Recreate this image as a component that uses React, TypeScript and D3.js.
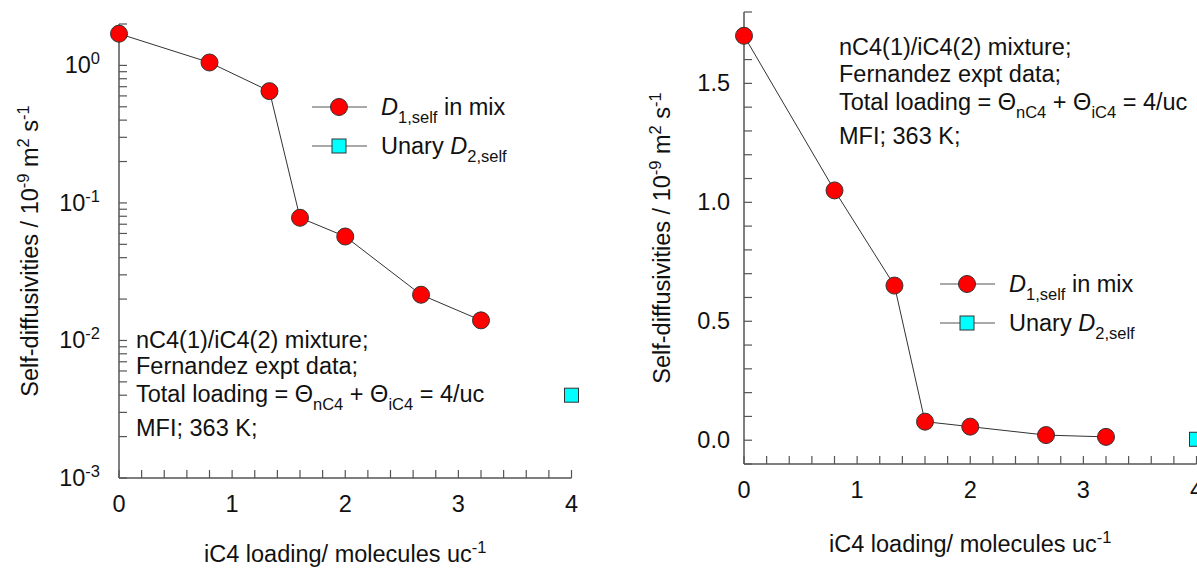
import React from "react";
import * as d3 from "d3";

// iC4 loading (molecules per unit cell) and nC4 self-diffusivity in the mixture
const loadingIC4 = [0, 0.8, 1.33, 1.6, 2.0, 2.67, 3.2];
const dSelfMix = [1.7, 1.05, 0.65, 0.078, 0.057, 0.0215, 0.014];
// unary iC4 self-diffusivity at 4/uc
const unaryLoading = [4];
const dSelfUnary = [0.004];

const xTicks = [0, 1, 2, 3, 4];
const logMajorTicks = [1, 0.1, 0.01, 0.001];
const logExponents = ["0", "-1", "-2", "-3"];
const linMajorTicks = [0, 0.5, 1.0, 1.5];

const annotationLines = ["nC4(1)/iC4(2) mixture;", "Fernandez expt data;"];
const annotationLast = "MFI; 363 K;";

const FONT = "'Liberation Sans', Arial, Helvetica, sans-serif";
const AXIS = "#555";
const INK = "#111";
const FS = 23.5;
const SUB = 16.5;

type PanelProps = {
  log: boolean;
  x0: number;
  x1: number;
  yTop: number;
  yBot: number;
  xLabelBase: number;
  yTitleX: number;
  xTitleBase: number;
  legendX: number;
  legendY: number;
  noteX: number;
  noteBases: number[];
};

function Theta3({ x, y }: { x: number; y: number }) {
  return (
    <text x={x} y={y} fontSize={FS} fill={INK}>
      {"Total loading = \u0398"}
      <tspan fontSize={SUB} dy={8}>nC4</tspan>
      <tspan dy={-8}>{" + \u0398"}</tspan>
      <tspan fontSize={SUB} dy={8}>iC4</tspan>
      <tspan dy={-8}>{" = 4/uc"}</tspan>
    </text>
  );
}

function Panel(p: PanelProps) {
  const x = d3.scaleLinear().domain([0, 4]).range([p.x0, p.x1]);
  const yLog = d3.scaleLog().domain([0.001, 2]).range([p.yBot, p.yTop]);
  const yLin = d3.scaleLinear().domain([-0.1, 1.8]).range([p.yBot, p.yTop]);
  const y = (v: number) => (p.log ? yLog(v) : yLin(v));

  const xMinor = d3.range(0, 4.0001, 0.2);
  let yMinor: number[] = [];
  if (p.log) {
    for (const dec of [0.001, 0.01, 0.1, 1]) {
      for (let k = 1; k <= 9; k++) {
        const v = dec * k;
        if (v <= 2.0001) yMinor.push(v);
      }
    }
  } else {
    yMinor = d3.range(-0.1, 1.8001, 0.1);
  }

  const line = d3
    .line<number>()
    .x((_, i) => x(loadingIC4[i]))
    .y((d) => y(d));

  const baseY = p.yBot;
  const lx = p.legendX;
  const ly = p.legendY;
  const yMid = (p.yTop + p.yBot) / 2;
  const xMid = (p.x0 + p.x1) / 2;

  return (
    <g fontFamily={FONT}>
      {/* axes */}
      <line x1={p.x0} x2={p.x0} y1={p.yTop} y2={p.yBot} stroke={AXIS} strokeWidth={1.5} />
      <line x1={p.x0} x2={p.x1} y1={baseY} y2={baseY} stroke={AXIS} strokeWidth={1.5} />
      {xMinor.map((t, i) => (
        <line key={"xt" + i} x1={x(t)} x2={x(t)} y1={baseY} y2={baseY - 8} stroke={AXIS} strokeWidth={1.2} />
      ))}
      {yMinor.map((t, i) => (
        <line key={"yt" + i} x1={p.x0} x2={p.x0 + 8} y1={y(t)} y2={y(t)} stroke={AXIS} strokeWidth={1.2} />
      ))}
      {xTicks.map((t) => (
        <text key={"xl" + t} x={x(t)} y={p.xLabelBase} fontSize={FS} fill={INK} textAnchor="middle">
          {t}
        </text>
      ))}
      {p.log
        ? logMajorTicks.map((t, i) => (
            <text key={"yl" + i} x={p.x0 - 19} y={yLog(t) + 8} fontSize={FS} fill={INK} textAnchor="end">
              10
              <tspan fontSize={SUB} dy={-9}>{logExponents[i]}</tspan>
            </text>
          ))
        : linMajorTicks.map((t, i) => (
            <text key={"yl" + i} x={p.x0 - 14} y={yLin(t) + 8} fontSize={FS} fill={INK} textAnchor="end">
              {d3.format(".1f")(t)}
            </text>
          ))}

      {/* axis titles */}
      <text
        transform={`translate(${p.yTitleX},${yMid}) rotate(-90)`}
        fontSize={FS}
        fill={INK}
        textAnchor="middle"
      >
        {"Self-diffusivities / 10"}
        <tspan fontSize={SUB} dy={-9}>-9</tspan>
        <tspan dy={9}>{" m"}</tspan>
        <tspan fontSize={SUB} dy={-9}>2</tspan>
        <tspan dy={9}>{" s"}</tspan>
        <tspan fontSize={SUB} dy={-9}>-1</tspan>
      </text>
      <text x={xMid} y={p.xTitleBase} fontSize={FS} fill={INK} textAnchor="middle">
        {"iC4 loading/ molecules uc"}
        <tspan fontSize={SUB} dy={-9}>-1</tspan>
      </text>

      {/* data */}
      <path d={line(dSelfMix) || ""} fill="none" stroke="#333" strokeWidth={1} />
      {dSelfMix.map((v, i) => (
        <circle key={"c" + i} cx={x(loadingIC4[i])} cy={y(v)} r={8.5} fill="#ff0000" stroke="#333" strokeWidth={1} />
      ))}
      {dSelfUnary.map((v, i) => (
        <rect
          key={"s" + i}
          x={x(unaryLoading[i]) - 7}
          y={y(v) - 7}
          width={14}
          height={14}
          fill="#00ffff"
          stroke="#333"
          strokeWidth={1}
        />
      ))}

      {/* legend */}
      <line x1={lx} x2={lx + 55} y1={ly} y2={ly} stroke="#555" strokeWidth={1.2} />
      <circle cx={lx + 27} cy={ly} r={8.5} fill="#ff0000" stroke="#333" strokeWidth={1} />
      <text x={lx + 69} y={ly + 8} fontSize={FS} fill={INK}>
        <tspan fontStyle="italic">D</tspan>
        <tspan fontSize={SUB} dy={8}>1,self</tspan>
        <tspan dy={-8}>{" in mix"}</tspan>
      </text>
      <line x1={lx} x2={lx + 55} y1={ly + 39} y2={ly + 39} stroke="#555" strokeWidth={1.2} />
      <rect x={lx + 20} y={ly + 32} width={14} height={14} fill="#00ffff" stroke="#333" strokeWidth={1} />
      <text x={lx + 69} y={ly + 47} fontSize={FS} fill={INK}>
        {"Unary "}
        <tspan fontStyle="italic">D</tspan>
        <tspan fontSize={SUB} dy={8}>2,self</tspan>
      </text>

      {/* annotation */}
      {annotationLines.map((s, i) => (
        <text key={"n" + i} x={p.noteX} y={p.noteBases[i]} fontSize={FS} fill={INK}>
          {s}
        </text>
      ))}
      <Theta3 x={p.noteX} y={p.noteBases[2]} />
      <text x={p.noteX} y={p.noteBases[3]} fontSize={FS} fill={INK}>
        {annotationLast}
      </text>
    </g>
  );
}

export default function App() {
  return (
    <svg
      width={1197}
      height={571}
      style={{ position: "absolute", left: 0, top: 0, background: "#fff" }}
    >
      <rect width={1197} height={571} fill="#fff" />
      <Panel
        log={true}
        x0={119}
        x1={571.5}
        yTop={24}
        yBot={478}
        xLabelBase={512}
        yTitleX={38}
        xTitleBase={562}
        legendX={312}
        legendY={107}
        noteX={136}
        noteBases={[348, 374, 402, 436]}
      />
      <Panel
        log={false}
        x0={744}
        x1={1196.5}
        yTop={12}
        yBot={464}
        xLabelBase={498}
        yTitleX={670}
        xTitleBase={552}
        legendX={940}
        legendY={284}
        noteX={839}
        noteBases={[55, 82, 110, 144]}
      />
    </svg>
  );
}
